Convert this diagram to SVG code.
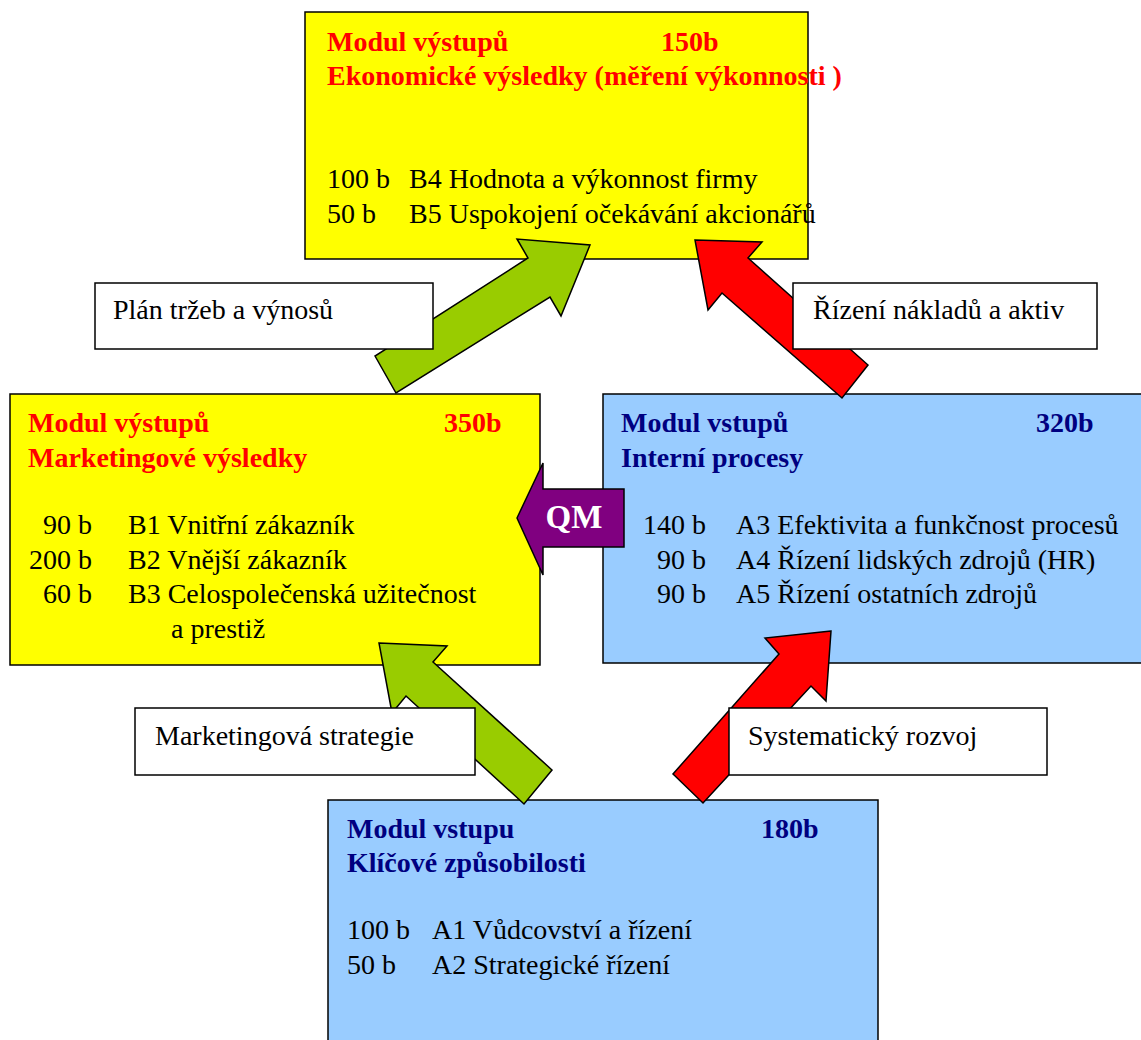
<svg xmlns="http://www.w3.org/2000/svg" width="1141" height="1040" viewBox="0 0 1141 1040">
  <style>
    .box { stroke: #000; stroke-width: 1.5; }
    .out { fill: #FFFF00; }
    .in { fill: #99CCFF; }
    .lbl { fill: #FFFFFF; stroke: #000; stroke-width: 1.5; }
    text { font-family: "Liberation Serif", "Times New Roman", serif; font-size: 28px; fill: #000; }
    .hr { font-weight: bold; fill: #FF0000; }
    .hb { font-weight: bold; fill: #000080; }
    .arr { stroke: #000; stroke-width: 1.5; stroke-linejoin: miter; }
    .green { fill: #99CC00; }
    .red { fill: #FF0000; }
    .qm { fill: #800080; }
    .qmt { font-size: 33px; font-weight: bold; fill: #FFFFFF; }
  </style>

  <!-- output module: economic results -->
  <g id="node-economic">
    <rect class="box out" x="305" y="12" width="503" height="247"/>
    <text class="hr" x="327" y="51">Modul výstupů</text>
    <text class="hr" x="661" y="51">150b</text>
    <text class="hr" x="327" y="85">Ekonomické výsledky (měření výkonnosti )</text>
    <text x="327" y="188">100 b</text>
    <text x="409" y="188">B4 Hodnota a výkonnost firmy</text>
    <text x="327" y="223">50 b</text>
    <text x="409" y="223">B5 Uspokojení očekávání akcionářů</text>
  </g>

  <!-- output module: marketing results -->
  <g id="node-marketing">
    <rect class="box out" x="10" y="394" width="530" height="271"/>
    <text class="hr" x="28" y="432">Modul výstupů</text>
    <text class="hr" x="444" y="432">350b</text>
    <text class="hr" x="28" y="467">Marketingové výsledky</text>
    <text x="92" y="534" text-anchor="end">90 b</text>
    <text x="128" y="534">B1 Vnitřní zákazník</text>
    <text x="92" y="569" text-anchor="end">200 b</text>
    <text x="128" y="569">B2 Vnější zákazník</text>
    <text x="92" y="603" text-anchor="end">60 b</text>
    <text x="128" y="603">B3 Celospolečenská užitečnost</text>
    <text x="171" y="638">a prestiž</text>
  </g>

  <!-- input module: internal processes -->
  <g id="node-processes">
    <rect class="box in" x="603" y="394" width="545" height="269"/>
    <text class="hb" x="621" y="432">Modul vstupů</text>
    <text class="hb" x="1036" y="432">320b</text>
    <text class="hb" x="621" y="467">Interní procesy</text>
    <text x="706" y="534" text-anchor="end">140 b</text>
    <text x="736" y="534">A3 Efektivita a funkčnost procesů</text>
    <text x="706" y="569" text-anchor="end">90 b</text>
    <text x="736" y="569">A4 Řízení lidských zdrojů (HR)</text>
    <text x="706" y="603" text-anchor="end">90 b</text>
    <text x="736" y="603">A5 Řízení ostatních zdrojů</text>
  </g>

  <!-- input module: core competences -->
  <g id="node-competences">
    <rect class="box in" x="328" y="800" width="550" height="250"/>
    <text class="hb" x="347" y="838">Modul vstupu</text>
    <text class="hb" x="761" y="838">180b</text>
    <text class="hb" x="347" y="872">Klíčové způsobilosti</text>
    <text x="347" y="939">100 b</text>
    <text x="432" y="939">A1 Vůdcovství a řízení</text>
    <text x="347" y="974">50 b</text>
    <text x="432" y="974">A2 Strategické řízení</text>
  </g>

  <!-- block arrows between modules -->
  <g id="connectors">
    <polygon class="arr green" points="375,356 396,393 550,297 561,316 590,245 517,239 528,258"/>
    <polygon class="arr red" points="695,240 762,242 748,258 868,365 842,398 722,293 708,310"/>
    <polygon class="arr green" points="379,643 447,646 433,662 552,770 524,804 406,696 392,713"/>
    <polygon class="arr red" points="831,631 765,638 779,654 673,774 703,803 811,686 826,701"/>
    <polygon class="arr qm" points="517,518 543,463 543,489 624,489 624,547 543,547 543,575"/>
    <text class="qmt" x="574" y="528" text-anchor="middle">QM</text>
  </g>

  <!-- arrow captions -->
  <g id="label-revenue">
    <rect class="lbl" x="95" y="283" width="338" height="66"/>
    <text x="113" y="319">Plán tržeb a výnosů</text>
  </g>
  <g id="label-costs">
    <rect class="lbl" x="793" y="283" width="304" height="66"/>
    <text x="813" y="319">Řízení nákladů a aktiv</text>
  </g>
  <g id="label-strategy">
    <rect class="lbl" x="135" y="708" width="340" height="67"/>
    <text x="155" y="745">Marketingová strategie</text>
  </g>
  <g id="label-development">
    <rect class="lbl" x="729" y="708" width="318" height="67"/>
    <text x="748" y="745">Systematický rozvoj</text>
  </g>
</svg>
